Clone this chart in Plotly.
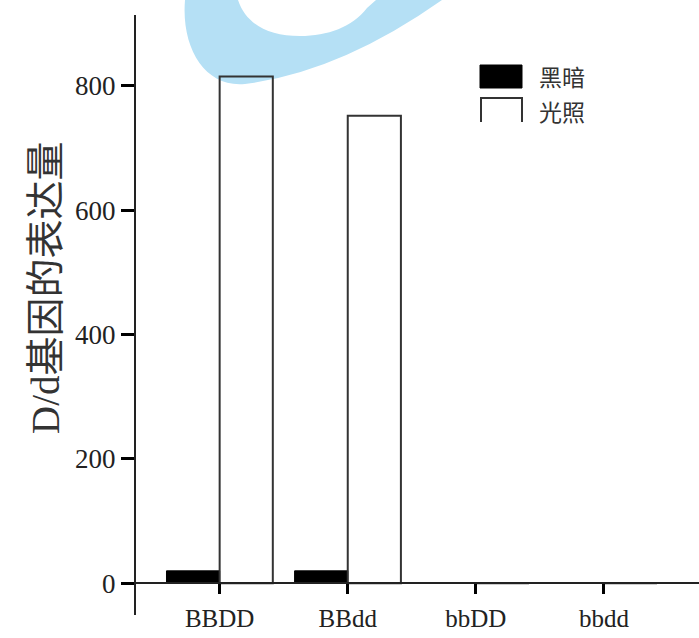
import plotly.graph_objects as go

categories = ["BBDD", "BBdd", "bbDD", "bbdd"]
dark_values = [20, 20, 0, 0]
light_values = [815, 752, 0, 0]
series_names = ["黑暗", "光照"]
y_ticks = [0, 200, 400, 600, 800]
y_title = "D/d基因的表达量"

W, H = 699, 638
ML, MR, MT, MB = 136, 0, 15, 23
PW, PH = W - ML - MR, H - MT - MB


def px(x):
    return (x - ML) / PW


def py(y):
    return (H - MB - y) / PH


SERIF = "Liberation Serif, Times New Roman, serif"
CJK = "Noto Sans CJK SC, sans-serif"

fig = go.Figure()
fig.add_trace(go.Bar(x=categories, y=dark_values, name=series_names[0],
                     marker=dict(color="black", line=dict(color="black", width=1))))
fig.add_trace(go.Bar(x=categories, y=light_values, name=series_names[1],
                     marker=dict(color="rgba(255,255,255,0)", line=dict(color="#333333", width=2))))

# watermark (light blue crescent)
def P(x, y):
    return f"{px(x):.5f},{py(y):.5f}"

wm_path = (
    f"M{P(185,0)} C{P(181,48)} {P(205,88)} {P(245,84)} Q{P(340,72)} {P(442,0)} Z "
    f"M{P(376,0)} L{P(367,8)} C{P(352,27)} {P(328,36)} {P(300,36)} C{P(268,36)} {P(246,24)} {P(238,0)} Z"
)
shapes = [dict(type="path", path=wm_path, xref="paper", yref="paper",
               fillcolor="#b5e0f5", line=dict(width=0), layer="below")]

# legend drawn manually
shapes.append(dict(type="rect", xref="paper", yref="paper",
                   x0=px(480), x1=px(522), y0=py(88), y1=py(65),
                   fillcolor="black", line=dict(color="black", width=1)))
shapes.append(dict(type="path", xref="paper", yref="paper",
                   path=f"M{P(481,122)} L{P(481,98)} L{P(522,98)} L{P(522,122)}",
                   line=dict(color="#333333", width=2)))

annotations = [
    dict(text=series_names[0], x=px(537), y=py(76), xref="paper", yref="paper",
         xanchor="left", yanchor="middle", showarrow=False,
         font=dict(family=CJK, size=23, color="#333333")),
    dict(text=series_names[1], x=px(537), y=py(111), xref="paper", yref="paper",
         xanchor="left", yanchor="middle", showarrow=False,
         font=dict(family=CJK, size=23, color="#333333")),
    dict(text=y_title, x=px(45), y=py(288), xref="paper", yref="paper",
         xanchor="center", yanchor="middle", textangle=-90, showarrow=False,
         font=dict(family=SERIF + ", " + CJK, size=39, color="#333333")),
]

y_min, y_max = -51, 914
zero_pos = (0 - y_min) / (y_max - y_min)

fig.update_layout(
    width=W, height=H,
    margin=dict(l=ML, r=MR, t=MT, b=MB, pad=0, autoexpand=False),
    paper_bgcolor="white", plot_bgcolor="rgba(0,0,0,0)",
    barmode="group", bargap=0.17, bargroupgap=0,
    showlegend=False,
    shapes=shapes, annotations=annotations,
    xaxis=dict(
        type="category", range=[-0.653, 3.742],
        anchor="free", position=zero_pos, automargin=False,
        showline=True, linecolor="#222222", linewidth=2,
        ticks="outside", ticklen=10, tickwidth=3, tickcolor="black",
        tickfont=dict(family=SERIF, size=25, color="#222222"),
        ticklabelstandoff=3,
        showgrid=False, zeroline=False,
    ),
    yaxis=dict(
        range=[y_min, y_max], tickvals=y_ticks, automargin=False,
        showline=True, linecolor="#222222", linewidth=2,
        ticks="outside", ticklen=13, tickwidth=3, tickcolor="black",
        tickfont=dict(family=SERIF, size=27, color="#222222"),
        showgrid=False, zeroline=False,
    ),
)

fig.write_html(
    "out.html",
    config={"displayModeBar": False},
    post_script="document.body.style.margin='0';document.body.style.overflow='hidden';",
)
